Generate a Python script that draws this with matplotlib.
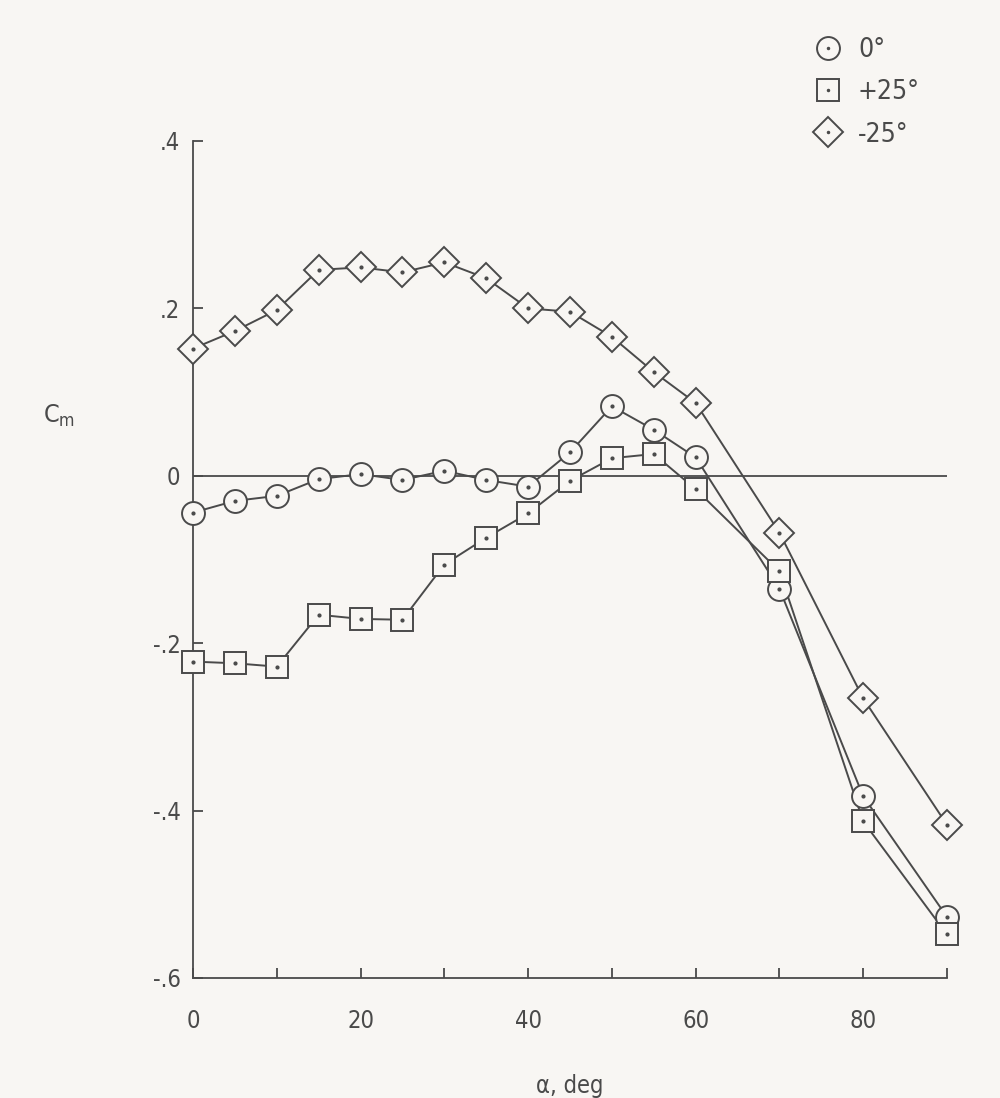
import matplotlib
matplotlib.use("Agg")
import matplotlib.pyplot as plt
from matplotlib.lines import Line2D
from matplotlib.legend_handler import HandlerTuple

# ---- data ----
alpha = [0, 5, 10, 15, 20, 25, 30, 35, 40, 45, 50, 55, 60, 70, 80, 90]
cm_0 = [-0.044, -0.030, -0.024, -0.004, 0.002, -0.005, 0.006, -0.005, -0.013,
        0.028, 0.083, 0.055, 0.022, -0.135, -0.383, -0.527]
cm_p25 = [-0.222, -0.224, -0.228, -0.166, -0.171, -0.172, -0.106, -0.074, -0.045,
          -0.006, 0.021, 0.026, -0.016, -0.114, -0.413, -0.548]
cm_m25 = [0.152, 0.173, 0.198, 0.246, 0.249, 0.243, 0.255, 0.236, 0.200,
          0.196, 0.166, 0.124, 0.087, -0.068, -0.266, -0.417]
series_labels = ["0°", "+25°", "-25°"]
xticks = [0, 10, 20, 30, 40, 50, 60, 70, 80, 90]
xticklabels = ["0", "", "20", "", "40", "", "60", "", "80", ""]
yticks = [-0.6, -0.4, -0.2, 0.0, 0.2, 0.4]
yticklabels = ["-.6", "-.4", "-.2", "0", ".2", ".4"]

plt.rcParams["font.family"] = ["DejaVu Sans"]
plt.rcParams["font.stretch"] = "condensed"
INK = "#4a4a4a"
BG = "#f8f6f3"

fig = plt.figure(figsize=(10, 10.98), dpi=100, facecolor=BG)
ax = fig.add_axes([0.193, 0.1093, 0.754, 0.7623])
ax.set_facecolor(BG)

ax.set_xlim(0, 90)
ax.set_ylim(-0.6, 0.4)

# zero line
ax.axhline(0, color=INK, lw=1.3, zorder=1)

styles = [
    (cm_0, "o", 16.5),
    (cm_p25, "s", 16.0),
    (cm_m25, "D", 15.0),
]
handles = []
for vals, mk, ms in styles:
    ax.plot(alpha, vals, color=INK, lw=1.4, zorder=2, clip_on=False)
    ax.plot(alpha, vals, ls="none", marker=mk, ms=ms, mfc=BG, mec=INK,
            mew=1.4, zorder=3, clip_on=False)
    ax.plot(alpha, vals, ls="none", marker="o", ms=2.0, mfc=INK, mec=INK,
            zorder=4, clip_on=False)
    h1 = Line2D([], [], ls="none", marker=mk, ms=ms, mfc=BG, mec=INK, mew=1.4)
    h2 = Line2D([], [], ls="none", marker="o", ms=1.5, mfc=INK, mec=INK)
    handles.append((h1, h2))

for s in ["top", "right"]:
    ax.spines[s].set_visible(False)
for s in ["left", "bottom"]:
    ax.spines[s].set_color(INK)
    ax.spines[s].set_linewidth(1.3)

ax.set_xticks(xticks)
ax.set_xticklabels(xticklabels)
ax.set_yticks(yticks)
ax.set_yticklabels(yticklabels)
ax.tick_params(axis="both", direction="in", length=7, width=1.3, color=INK,
               labelcolor=INK, labelsize=17)
ax.tick_params(axis="x", pad=22)
ax.tick_params(axis="y", pad=9)

ax.set_xlabel("α, deg", fontsize=17, color=INK, labelpad=30)
fig.text(0.043, 0.621, r"C$_\mathregular{m}$", fontsize=18, color=INK,
         ha="left", va="center")

leg = fig.legend(handles, series_labels, loc="upper left",
                 bbox_to_anchor=(0.788, 0.988), frameon=False, fontsize=19,
                 handler_map={tuple: HandlerTuple(ndivide=1)},
                 handlelength=1.2, handletextpad=0.55, labelspacing=0.62)
for t in leg.get_texts():
    t.set_color(INK)

fig.savefig("out.png", dpi=100, facecolor=BG)
